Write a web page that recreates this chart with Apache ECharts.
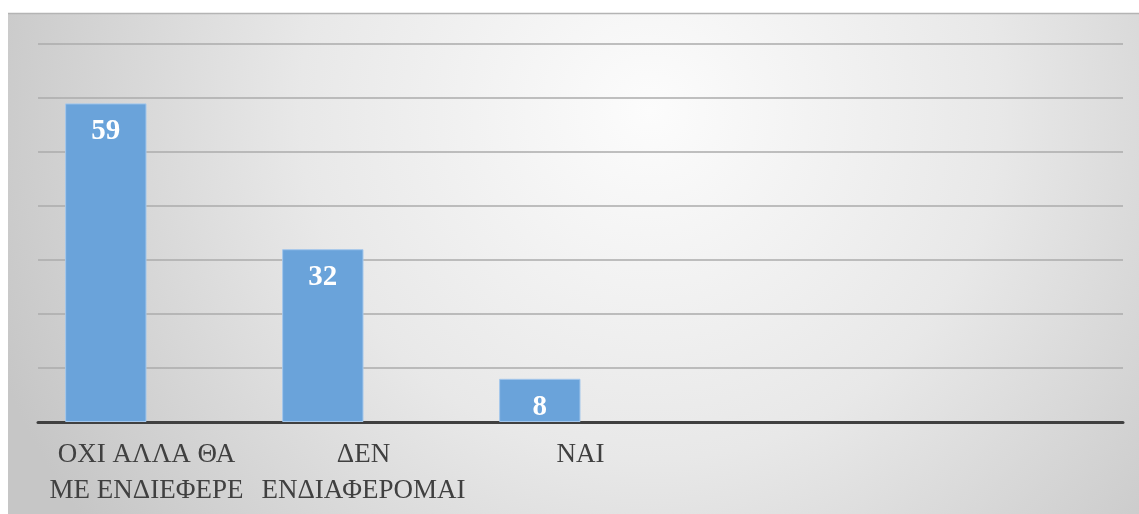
<!DOCTYPE html>
<html>
<head>
<meta charset="utf-8">
<script src="https://cdn.jsdelivr.net/npm/echarts@6/dist/echarts.min.js"></script>
<style>
html,body{margin:0;padding:0;background:#fff;}
#chart{width:1139px;height:514px;}
</style>
</head>
<body>
<div id="chart"></div>
<script>
const categories = ['ΟΧΙ ΑΛΛΑ ΘΑ\nΜΕ ΕΝΔΙΕΦΕΡΕ', 'ΔΕΝ\nΕΝΔΙΑΦΕΡΟΜΑΙ', 'ΝΑΙ', '', ''];
const answers = [59, 32, 8, null, null];
const emptySeries = [null, null, null, null, null];
const yMax = 70;
const yInterval = 10;

const chart = echarts.init(document.getElementById('chart'), null, {renderer: 'canvas'});
const serif = "Liberation Serif";

chart.setOption({
  animation: false,
  backgroundColor: '#ffffff',
  graphic: [
    {
      type: 'rect',
      z: -10,
      silent: true,
      shape: {x: 8, y: 13, width: 1131, height: 501},
      style: {
        fill: {
          type: 'radial', x: 650, y: 110, r: 700, global: true,
          colorStops: [
            {offset: 0, color: '#fcfcfc'},
            {offset: 0.5, color: '#e8e8e8'},
            {offset: 1, color: '#c6c6c6'}
          ]
        }
      }
    },
    {
      type: 'line',
      z: -9,
      silent: true,
      shape: {x1: 8, y1: 13.5, x2: 1139, y2: 13.5},
      style: {stroke: '#b4b4b4', lineWidth: 1.5}
    }
  ],
  grid: {left: 38, right: 16, top: 44, bottom: 92, containLabel: false},
  xAxis: {
    type: 'category',
    data: categories,
    axisLine: {show: true, lineStyle: {color: '#404040', width: 3}},
    axisTick: {show: false},
    axisLabel: {
      interval: 0,
      color: '#404040',
      fontFamily: serif,
      fontSize: 27,
      lineHeight: 36,
      margin: 15
    }
  },
  yAxis: {
    type: 'value',
    min: 0,
    max: yMax,
    interval: yInterval,
    axisLine: {show: false},
    axisTick: {show: false},
    axisLabel: {show: false},
    splitLine: {lineStyle: {color: '#ababab', width: 1.5}}
  },
  series: [
    {
      type: 'bar',
      data: answers,
      barGap: '0%',
      barCategoryGap: '25%',
      itemStyle: {color: '#6aa3da', borderColor: '#a4c7ec', borderWidth: 1},
      label: {
        show: true,
        position: 'insideTop',
        distance: 14,
        color: '#ffffff',
        fontFamily: serif,
        fontWeight: 'bold',
        fontSize: 29
      }
    },
    {
      type: 'bar',
      data: emptySeries,
      barGap: '0%',
      barCategoryGap: '25%'
    }
  ]
});
</script>
</body>
</html>
